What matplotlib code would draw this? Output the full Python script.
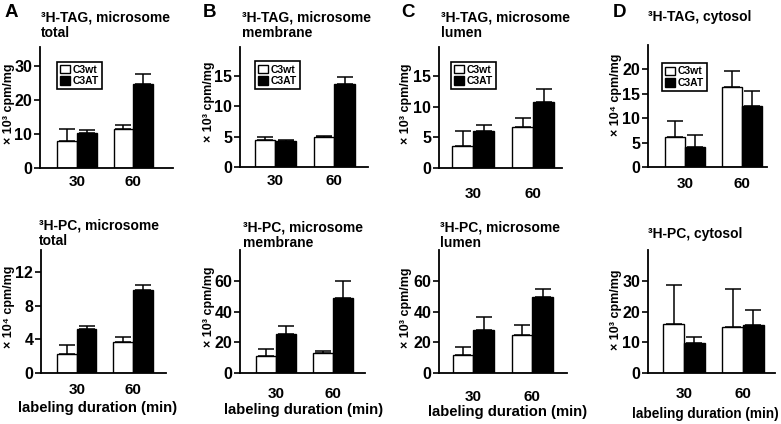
import matplotlib
matplotlib.use("Agg")
import matplotlib.pyplot as plt
from matplotlib.patches import Patch

plt.rcParams['font.family'] = ['Liberation Sans', 'DejaVu Sans']
plt.rcParams['font.weight'] = 'bold'
narrow = ['Liberation Sans Narrow', 'Liberation Sans', 'DejaVu Sans']

W, H = 781, 424

# labeling duration (min)
groups = ["30", "60"]

# top row: 3H-TAG
tag_total_wt = [7.8, 11.5]
tag_total_wt_err = [3.7, 1.2]
tag_total_at = [10.3, 24.8]
tag_total_at_err = [0.8, 2.8]

tag_mem_wt = [4.4, 4.85]
tag_mem_wt_err = [0.5, 0.2]
tag_mem_at = [4.2, 13.7]
tag_mem_at_err = [0.3, 1.1]

tag_lum_wt = [3.6, 6.75]
tag_lum_wt_err = [2.5, 1.45]
tag_lum_at = [6.1, 10.8]
tag_lum_at_err = [0.9, 2.1]

tag_cyt_wt = [6.2, 16.3]
tag_cyt_wt_err = [3.3, 3.3]
tag_cyt_at = [4.2, 12.6]
tag_cyt_at_err = [2.4, 3.0]

# bottom row: 3H-PC
pc_total_wt = [2.3, 3.65]
pc_total_wt_err = [1.05, 0.65]
pc_total_at = [5.2, 9.85]
pc_total_at_err = [0.4, 0.55]

pc_mem_wt = [10.9, 13.1]
pc_mem_wt_err = [4.4, 1.1]
pc_mem_at = [25.4, 48.8]
pc_mem_at_err = [5.2, 10.9]

pc_lum_wt = [11.6, 24.5]
pc_lum_wt_err = [5.5, 6.8]
pc_lum_at = [28.0, 49.7]
pc_lum_at_err = [8.1, 5.0]

pc_cyt_wt = [15.9, 14.8]
pc_cyt_wt_err = [12.7, 12.5]
pc_cyt_at = [9.6, 15.7]
pc_cyt_at_err = [2.0, 4.8]

ylab3 = "× 10³ cpm/mg"
ylab4 = "× 10⁴ cpm/mg"

# (data, title, ylabel, yticks, ymax, axes px rect, xlim, title px, tick pad, legend anchor, ylabel px)
panels = [
    ((tag_total_wt, tag_total_wt_err, tag_total_at, tag_total_at_err),
     "³H-TAG, microsome\ntotal", ylab3, [0, 10, 20, 30], 35.6,
     (40, 47, 173, 168), (-0.66, 1.71), (41, 10), 5, (0.13, 0.88), (9, 104)),
    ((tag_mem_wt, tag_mem_wt_err, tag_mem_at, tag_mem_at_err),
     "³H-TAG, microsome\nmembrane", ylab3, [0, 5, 10, 15], 19.7,
     (240, 47, 368, 167), (-0.60, 1.57), (242, 10), 5, (0.12, 0.88), (209, 102)),
    ((tag_lum_wt, tag_lum_wt_err, tag_lum_at, tag_lum_at_err),
     "³H-TAG, microsome\nlumen", ylab3, [0, 5, 10, 15], 19.7,
     (439, 47, 562, 168), (-0.57, 1.48), (441, 10), 14, (0.10, 0.88), (406, 104)),
    ((tag_cyt_wt, tag_cyt_wt_err, tag_cyt_at, tag_cyt_at_err),
     "³H-TAG, cytosol", ylab4, [0, 5, 10, 15, 20], 25.0,
     (648, 45, 767, 167), (-0.65, 1.44), (648, 10), 7, (0.12, 0.85), (616, 95)),
    ((pc_total_wt, pc_total_wt_err, pc_total_at, pc_total_at_err),
     "³H-PC, microsome\ntotal", ylab4, [0, 4, 8, 12], 14.6,
     (41, 250, 166, 373), (-0.64, 1.59), (39, 218), 7, None, (9, 307)),
    ((pc_mem_wt, pc_mem_wt_err, pc_mem_at, pc_mem_at_err),
     "³H-PC, microsome\nmembrane", ylab3, [0, 20, 40, 60], 80,
     (240, 250, 365, 373), (-0.63, 1.56), (243, 220), 10, None, (209, 307)),
    ((pc_lum_wt, pc_lum_wt_err, pc_lum_at, pc_lum_at_err),
     "³H-PC, microsome\nlumen", ylab3, [0, 20, 40, 60], 80,
     (439, 250, 567, 373), (-0.58, 1.59), (440, 220), 12, None, (406, 308)),
    ((pc_cyt_wt, pc_cyt_wt_err, pc_cyt_at, pc_cyt_at_err),
     "³H-PC, cytosol", ylab3, [0, 10, 20, 30], 40,
     (648, 250, 775, 373), (-0.61, 1.54), (648, 227), 10, None, (616, 310)),
]

letters = [("A", 5, 4), ("B", 203, 4), ("C", 401, 4), ("D", 613, 4)]
xlabel_pos = [(98, 412, 10.7), (304, 414, 10.7), (508, 416, 10.7), (705, 418, 9.8)]

fig = plt.figure(figsize=(W / 100, H / 100), dpi=100)

bw = 0.35
for i, (data, title, ylab, yt, ymax, rect, xlim, tpos, tpad, leg, ypos) in enumerate(panels):
    wt, wt_err, at, at_err = data
    x0, y0, x1, y1 = rect
    ax = fig.add_axes([x0 / W, 1 - y1 / H, (x1 - x0) / W, (y1 - y0) / H])
    xs = range(len(groups))
    xw = [x - bw / 2 for x in xs]
    xa = [x + bw / 2 for x in xs]
    ax.errorbar(xw, wt, yerr=[[0] * len(wt), wt_err], fmt='none', ecolor='black',
                elinewidth=1.1, capsize=6, capthick=1.1, zorder=1)
    ax.errorbar(xa, at, yerr=[[0] * len(at), at_err], fmt='none', ecolor='black',
                elinewidth=1.1, capsize=6, capthick=1.1, zorder=1)
    ax.bar(xw, wt, bw, color='white', edgecolor='black', linewidth=1.0, zorder=2)
    ax.bar(xa, at, bw, color='black', edgecolor='black', linewidth=1.0, zorder=2)
    ax.set_xlim(*xlim)
    ax.set_ylim(0, ymax)
    ax.set_xticks(list(xs))
    ax.set_xticklabels(groups)
    ax.set_yticks(yt)
    for s in ['top', 'right']:
        ax.spines[s].set_visible(False)
    for s in ['left', 'bottom']:
        ax.spines[s].set_linewidth(1.3)
    ax.tick_params(axis='x', length=0, pad=tpad, labelsize=11)
    ax.tick_params(axis='y', length=4, width=1.2, pad=1.5, labelsize=11.5)
    for lab in ax.get_xticklabels():
        lab.set_fontweight('bold')
    for lab in ax.get_yticklabels():
        lab.set_fontweight('bold')
        lab.set_family(narrow)
    fig.text(ypos[0] / W, 1 - ypos[1] / H, ylab, fontsize=9, fontweight='bold',
             rotation=90, ha='center', va='center')
    fig.text(tpos[0] / W, 1 - tpos[1] / H, title, fontsize=10, fontweight='bold',
             ha='left', va='top', linespacing=1.15)
    if leg is not None:
        handles = [Patch(facecolor='white', edgecolor='black', linewidth=1.0, label='C3wt'),
                   Patch(facecolor='black', edgecolor='black', linewidth=1.0, label='C3AT')]
        lg = ax.legend(handles=handles, loc='upper left', bbox_to_anchor=leg,
                       borderaxespad=0, fancybox=False, framealpha=1,
                       edgecolor='black', handlelength=0.9,
                       handleheight=0.9, handletextpad=0.3, borderpad=0.3,
                       labelspacing=0.15, prop={'weight': 'bold', 'size': 7.5})
        lg.get_frame().set_linewidth(1.2)
    else:
        lx, ly, fs = xlabel_pos[i - 4]
        fig.text(lx / W, 1 - ly / H, "labeling duration (min)",
                 fontsize=fs, fontweight='bold', ha='center', va='baseline')

for letter, lx, ly in letters:
    fig.text(lx / W, 1 - ly / H, letter, fontsize=13.5, fontweight='bold',
             ha='left', va='top')

fig.savefig("out.png", dpi=100)
